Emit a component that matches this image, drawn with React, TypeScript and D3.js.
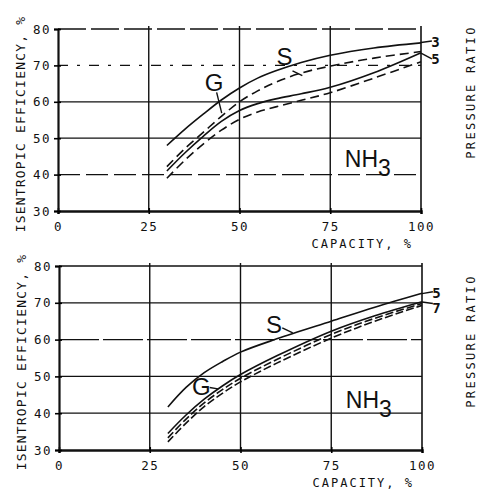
import React, { useRef, useEffect } from "react";
import * as d3 from "d3";

const capacityTicks = [0, 25, 50, 75, 100];
const efficiencyTicks = [30, 40, 50, 60, 70, 80];

// upper panel: [capacity %, isentropic efficiency %]
const upperScrewRatio3 = [
  [30, 48], [35, 52.5], [40, 56.6], [45, 60.5], [50, 63.8], [55, 66.5],
  [60, 68.5], [67, 70.8], [75, 72.8], [87, 74.8], [100, 76.2],
];
const upperScrewRatio5 = [
  [30, 42.2], [35, 47.2], [40, 51.6], [45, 56], [50, 60], [55, 63],
  [60, 65.4], [67, 67.9], [75, 69.8], [87, 72], [100, 73.8],
];
const upperGasRatio3 = [
  [30, 41], [35, 46], [40, 50.5], [45, 54.6], [50, 57.6], [55, 59.5],
  [60, 60.8], [67, 62.2], [75, 64], [87, 68], [100, 73.5],
];
const upperGasRatio5 = [
  [30, 39], [35, 44], [40, 48.4], [45, 52.2], [50, 55.2], [55, 57.2],
  [60, 58.6], [67, 60.4], [75, 62.5], [87, 66.5], [100, 71],
];

// lower panel
const lowerScrew = [
  [30, 41.7], [35, 47], [40, 51], [45, 54], [50, 56.6], [60, 60.2],
  [75, 65], [87, 68.8], [100, 72.6],
];
const lowerGasRatio5 = [
  [30, 34.5], [35, 39.5], [40, 43.8], [45, 47.4], [50, 50.5], [60, 55.6],
  [75, 62.3], [87, 66.5], [100, 70.3],
];
const lowerGasRatio6 = [
  [30, 33.3], [35, 38.4], [40, 42.8], [45, 46.4], [50, 49.5], [60, 54.6],
  [75, 61.4], [87, 65.8], [100, 69.8],
];
const lowerGasRatio7 = [
  [30, 32.2], [35, 37.3], [40, 41.8], [45, 45.4], [50, 48.5], [60, 53.6],
  [75, 60.4], [87, 65], [100, 69.3],
];

const MONO = "'DejaVu Sans Mono', monospace";
const HAND = "'Liberation Sans', Arial, sans-serif";
const INK = "#111";

const drawPanel = (svg, cfg) => {
  const x = d3.scaleLinear().domain([0, 100]).range([cfg.left, cfg.right]);
  const y = d3.scaleLinear().domain([30, 80]).range([cfg.bottom, cfg.top]);
  const g = svg.append("g");

  // horizontal grid
  efficiencyTicks.slice(1).forEach((v, i) => {
    g.append("line")
      .attr("x1", x(0))
      .attr("x2", x(100))
      .attr("y1", y(v))
      .attr("y2", y(v))
      .attr("stroke", INK)
      .attr("stroke-width", 1.3)
      .attr("stroke-dasharray", cfg.gridDash[i]);
  });

  // vertical grid + right edge
  capacityTicks.slice(1).forEach((v) => {
    g.append("line")
      .attr("x1", x(v))
      .attr("x2", x(v))
      .attr("y1", y(80) - 3)
      .attr("y2", y(30))
      .attr("stroke", INK)
      .attr("stroke-width", v === 100 ? 1.6 : 1.4);
  });

  const xAxis = g
    .append("g")
    .attr("transform", `translate(0,${y(30)})`)
    .call(d3.axisBottom(x).tickValues(capacityTicks).tickSize(3).tickPadding(6));
  xAxis.select(".domain").attr("stroke", INK).attr("stroke-width", 2.4);
  xAxis.selectAll(".tick line").attr("y1", -3).attr("stroke-width", 1.6);
  xAxis
    .selectAll(".tick text")
    .attr("fill", INK)
    .style("font-family", MONO)
    .style("font-size", "12.5px")
    .style("letter-spacing", "1.5px")
    .attr("dy", "0.9em");

  const yAxis = g
    .append("g")
    .attr("transform", `translate(${x(0)},0)`)
    .call(d3.axisLeft(y).tickValues(efficiencyTicks).tickSize(4).tickPadding(3));
  yAxis.select(".domain").attr("stroke", INK).attr("stroke-width", 2.2);
  yAxis.selectAll(".tick line").attr("x2", -4).attr("x1", 3).attr("stroke-width", 1.6);
  yAxis
    .selectAll(".tick text")
    .attr("fill", INK)
    .style("font-family", MONO)
    .style("font-size", "12.5px")
    .style("letter-spacing", "1.5px");

  // curves
  const line = d3
    .line()
    .x((d) => x(d[0]))
    .y((d) => y(d[1]))
    .curve(d3.curveCatmullRom.alpha(0.5));

  cfg.curves.forEach((c) => {
    g.append("path")
      .attr("d", line(c.data))
      .attr("fill", "none")
      .attr("stroke", INK)
      .attr("stroke-width", 1.6)
      .attr("stroke-dasharray", c.dash);
  });

  // hand lettering
  cfg.letters.forEach((t) => {
    g.append("text")
      .attr("x", x(t.cap))
      .attr("y", y(t.eff))
      .attr("text-anchor", "middle")
      .attr("dy", "0.36em")
      .attr("fill", INK)
      .style("font-family", HAND)
      .style("font-size", "24px")
      .text(t.text);
  });

  cfg.leaders.forEach((l) => {
    g.append("line")
      .attr("x1", x(l[0]))
      .attr("y1", y(l[1]))
      .attr("x2", x(l[2]))
      .attr("y2", y(l[3]))
      .attr("stroke", INK)
      .attr("stroke-width", 1.4);
  });

  const nh = g
    .append("text")
    .attr("x", x(cfg.nh3[0]))
    .attr("y", y(cfg.nh3[1]))
    .attr("fill", INK)
    .style("font-family", HAND)
    .style("font-size", "23px")
    .text("NH");
  nh.append("tspan").attr("dy", 9).text("3");

  // pressure ratio tags at the right end
  cfg.ratios.forEach((r) => {
    g.append("text")
      .attr("x", x(102.8))
      .attr("y", y(r.eff))
      .attr("dy", "0.36em")
      .attr("fill", INK)
      .style("font-family", MONO)
      .style("font-size", "14px")
      .style("font-weight", "bold")
      .text(r.text);
  });

  g.append("text")
    .attr("x", x(100) - 8)
    .attr("y", y(30) + 37)
    .attr("text-anchor", "end")
    .attr("fill", INK)
    .style("font-family", MONO)
    .style("font-size", "12px")
    .style("letter-spacing", "2px")
    .text("CAPACITY, %");

  g.append("text")
    .attr("transform", `translate(${cfg.yLabelX},${(y(30) + y(80)) / 2 + 4}) rotate(-90)`)
    .attr("text-anchor", "middle")
    .attr("fill", INK)
    .style("font-family", MONO)
    .style("font-size", "13px")
    .style("letter-spacing", "1.2px")
    .text("ISENTROPIC EFFICIENCY, %");

  g.append("text")
    .attr("transform", `translate(${cfg.ratioLabelX},${cfg.ratioLabelY}) rotate(-90)`)
    .attr("text-anchor", "middle")
    .attr("fill", INK)
    .style("font-family", MONO)
    .style("font-size", "12px")
    .style("letter-spacing", "2.3px")
    .text("PRESSURE RATIO");
};

const App = () => {
  const chartRef = useRef(null);

  useEffect(() => {
    const svg = d3
      .select(chartRef.current)
      .append("svg")
      .attr("width", 477)
      .attr("height", 492)
      .style("position", "absolute")
      .style("left", 0)
      .style("top", 0)
      .style("background", "#fff");

    drawPanel(svg, {
      left: 58,
      right: 421,
      top: 29,
      bottom: 211,
      gridDash: ["22 6", null, null, "10 9 3 9", "28 5"],
      curves: [
        { data: upperScrewRatio3, dash: null },
        { data: upperScrewRatio5, dash: "9 5" },
        { data: upperGasRatio3, dash: null },
        { data: upperGasRatio5, dash: "9 5" },
      ],
      letters: [
        { text: "S", cap: 62.4, eff: 72.5 },
        { text: "G", cap: 43, eff: 65.3 },
      ],
      leaders: [
        [64.6, 68.5, 67.3, 67.2],
        [43.7, 62.6, 45.1, 56.9],
        [100, 76.3, 103, 76.7],
        [100, 73.4, 103, 71.8],
      ],
      nh3: [79, 42],
      ratios: [
        { text: "3", eff: 76.4 },
        { text: "5", eff: 71.8 },
      ],
      yLabelX: 25,
      ratioLabelX: 475,
      ratioLabelY: 92,
    });

    drawPanel(svg, {
      left: 59,
      right: 422,
      top: 266,
      bottom: 450,
      gridDash: [null, null, "40 4", null, null],
      curves: [
        { data: lowerScrew, dash: null },
        { data: lowerGasRatio5, dash: null },
        { data: lowerGasRatio6, dash: "8 3" },
        { data: lowerGasRatio7, dash: "8 3" },
      ],
      letters: [
        { text: "S", cap: 59.2, eff: 64.2 },
        { text: "G", cap: 39.2, eff: 47.4 },
      ],
      leaders: [
        [61.5, 63.2, 64.4, 61.8],
        [41.5, 47, 43.8, 46.6],
        [100, 72.5, 103, 73],
        [100, 70.2, 103, 69.8],
      ],
      nh3: [79, 41.5],
      ratios: [
        { text: "5", eff: 72.8 },
        { text: "7", eff: 68.6 },
      ],
      yLabelX: 26,
      ratioLabelX: 475,
      ratioLabelY: 341,
    });

    return () => {
      chartRef.current.innerHTML = "";
    };
  }, []);

  return <div ref={chartRef}></div>;
};

export default App;
